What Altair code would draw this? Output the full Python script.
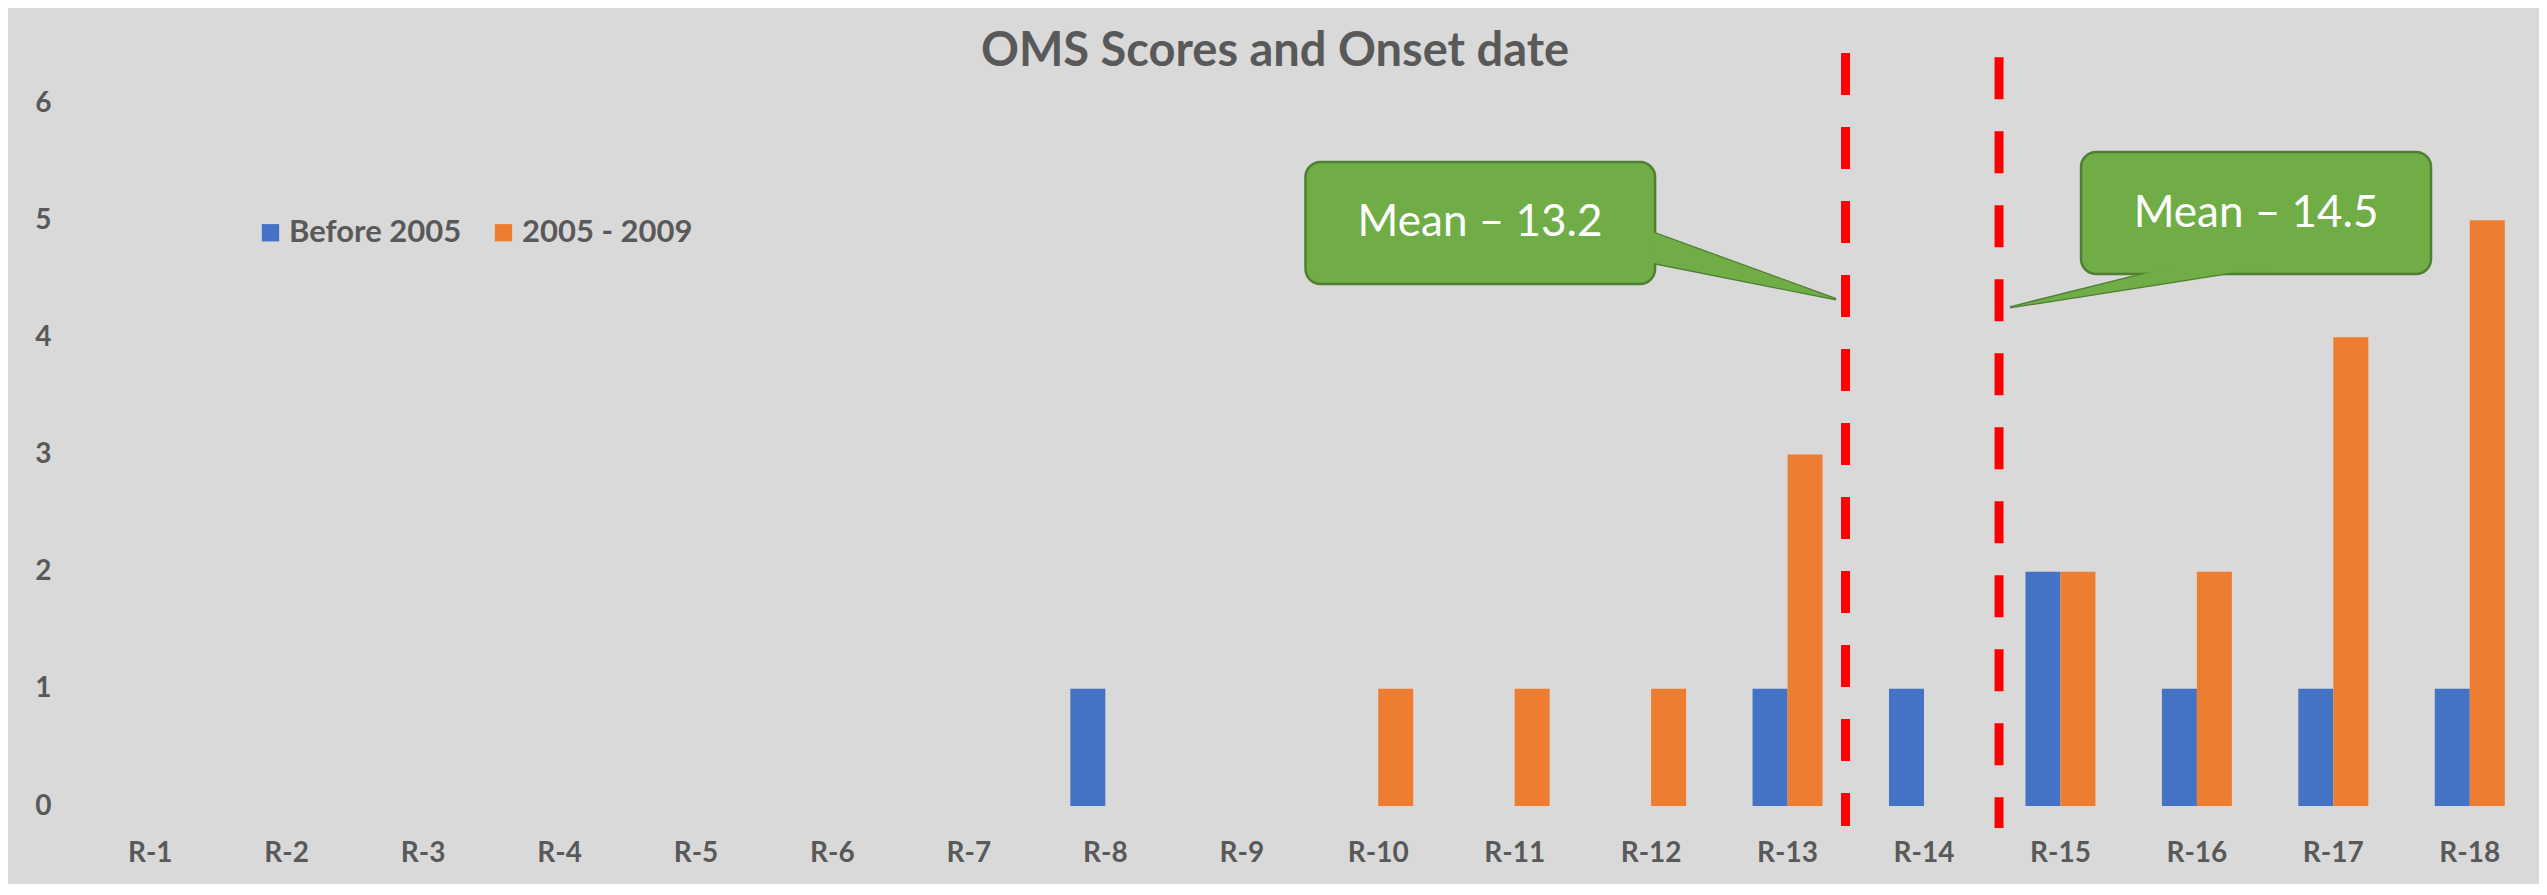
import altair as alt
import pandas as pd

# ---------------- data ----------------
categories = ["R-1", "R-2", "R-3", "R-4", "R-5", "R-6", "R-7", "R-8", "R-9",
              "R-10", "R-11", "R-12", "R-13", "R-14", "R-15", "R-16", "R-17", "R-18"]
series_names = ["Before 2005", "2005 - 2009"]
before_2005 = [0, 0, 0, 0, 0, 0, 0, 1, 0, 0, 0, 0, 1, 1, 2, 1, 1, 1]
from_2005_to_2009 = [0, 0, 0, 0, 0, 0, 0, 0, 0, 1, 1, 1, 3, 0, 2, 2, 4, 5]
y_ticks = [0, 1, 2, 3, 4, 5, 6]
series_colors = ["#4472C4", "#ED7D31"]

# mean marker lines (x in category-position units, y in count units)
mean_labels = ["Mean \u2013 13.2", "Mean \u2013 14.5"]
mean_line_x = [13.425, 14.55]
mean_line_top = [6.427, 6.39]
mean_line_bottom = [-0.171, -0.188]

# callout boxes
callout_x1 = [9.467, 15.151]
callout_x2 = [12.029, 17.716]
callout_y1 = [4.455, 4.540]
callout_y2 = [5.496, 5.582]
callout_text_x = [10.746, 16.434]
callout_text_y = [4.976, 5.053]

# callout pointer tails
tail_id = ["a", "a", "b", "b", "b"]
tail_x = [11.985, 13.355, 14.631, 15.818, 16.513]
tail_upper = [4.907, 4.325, 4.256, 4.600, 4.600]
tail_lower = [4.642, 4.325, 4.256, 4.473, 4.600]

# ---------------- tables ----------------
rows = []
for c, a, b in zip(categories, before_2005, from_2005_to_2009):
    rows.append({"cat": c, "series": series_names[0], "value": a})
    rows.append({"cat": c, "series": series_names[1], "value": b})
bars_df = pd.DataFrame(rows)

lines_df = pd.DataFrame({"x": mean_line_x, "top": mean_line_top, "bottom": mean_line_bottom})
box_df = pd.DataFrame({"x1": callout_x1, "x2": callout_x2, "y1": callout_y1, "y2": callout_y2,
                       "tx": callout_text_x, "ty": callout_text_y, "label": mean_labels})
tail_df = pd.DataFrame({"id": tail_id, "x": tail_x, "up": tail_upper, "lo": tail_lower})

TEXT = "#595959"
FONT = "Lato"
yscale = alt.Scale(domain=[0, 6], nice=False, zero=False)
xlin = alt.Scale(domain=[0.5, 18.5], nice=False, zero=False)
yaxis = alt.Axis(values=y_ticks, ticks=False, domain=False, grid=False, title=None,
                 labelFont=FONT, labelFontSize=28, labelFontWeight="bold",
                 labelColor=TEXT, labelPadding=31)

bars = alt.Chart(bars_df).mark_bar().encode(
    x=alt.X("cat:N", sort=categories, title=None,
            scale=alt.Scale(paddingInner=0.487, paddingOuter=0.2435),
            axis=alt.Axis(labelAngle=0, ticks=False, domain=False, grid=False,
                          labelFont=FONT, labelFontSize=28, labelFontWeight="bold",
                          labelColor=TEXT, labelPadding=33)),
    xOffset=alt.XOffset("series:N", sort=series_names),
    y=alt.Y("value:Q", title=None, scale=yscale, axis=yaxis),
    color=alt.Color("series:N", scale=alt.Scale(domain=series_names, range=series_colors),
                    legend=alt.Legend(orient="none", legendX=173, legendY=114,
                                      direction="horizontal", title=None,
                                      symbolType="square", symbolSize=300,
                                      symbolStrokeWidth=0, symbolOpacity=1,
                                      labelFont=FONT, labelFontSize=31,
                                      labelFontWeight="bold", labelColor=TEXT,
                                      labelLimit=0,
                                      labelOffset=3, columnPadding=26, padding=0)),
)

rules = alt.Chart(lines_df).mark_rule(color="#FF0000", strokeWidth=9, strokeDash=[42, 32]).encode(
    x=alt.X("x:Q", scale=xlin, axis=None),
    y=alt.Y("top:Q", scale=yscale, axis=yaxis, title=None),
    y2="bottom:Q",
)

tails_stroke = alt.Chart(tail_df).mark_area(
    orient="vertical", color="#70AD47", stroke="#507E32", strokeWidth=2.5, opacity=1
).encode(
    x=alt.X("x:Q", scale=xlin, axis=None),
    y=alt.Y("up:Q", scale=yscale, axis=yaxis, title=None),
    y2="lo:Q",
    detail="id:N",
)

boxes = alt.Chart(box_df).mark_rect(
    color="#70AD47", stroke="#507E32", strokeWidth=2.5, cornerRadius=15
).encode(
    x=alt.X("x1:Q", scale=xlin, axis=None),
    x2="x2:Q",
    y=alt.Y("y1:Q", scale=yscale, axis=yaxis, title=None),
    y2="y2:Q",
)

tails_fill = alt.Chart(tail_df).mark_area(orient="vertical", color="#70AD47", opacity=1).encode(
    x=alt.X("x:Q", scale=xlin, axis=None),
    y=alt.Y("up:Q", scale=yscale, axis=yaxis, title=None),
    y2="lo:Q",
    detail="id:N",
)

texts = alt.Chart(box_df).mark_text(
    color="white", font=FONT, fontSize=44, align="center", baseline="middle"
).encode(
    x=alt.X("tx:Q", scale=xlin, axis=None),
    y=alt.Y("ty:Q", scale=yscale, axis=yaxis, title=None),
    text="label:N",
)

annot = alt.layer(rules, tails_stroke, boxes, tails_fill, texts)

chart = alt.layer(bars, annot).resolve_scale(x="independent").properties(
    width=2456,
    height=703,
    padding={"left": 74, "top": 95, "right": 1, "bottom": 78},
    autosize=alt.AutoSizeParams(type="none"),
    title=alt.TitleParams("OMS Scores and Onset date", fontSize=47, font=FONT,
                          fontWeight="bold", color=TEXT, anchor="middle",
                          dx=-35, offset=-28),
).configure(background="#D9D9D9").configure_view(stroke=None)

chart.save("out.html", embed_options={"renderer": "svg", "actions": False})
